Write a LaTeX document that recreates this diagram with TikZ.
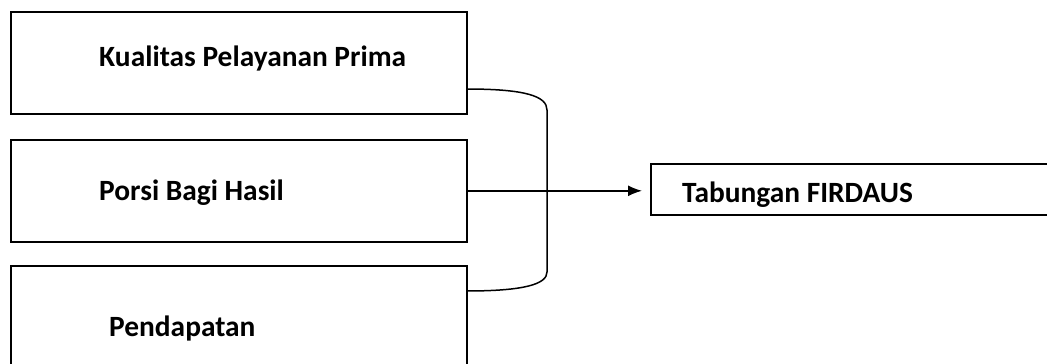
\documentclass[tikz,border=0pt]{standalone}
\usepackage{fontspec}
\setmainfont{Carlito}
\usetikzlibrary{arrows.meta}
\begin{document}
\begin{tikzpicture}[x=1pt,y=-1pt,
  box/.style={draw,line width=1.6pt,rectangle,inner sep=0pt,anchor=north west},
  lbl/.style={anchor=base west,inner sep=0pt,font=\bfseries\fontsize{29.4}{34}\selectfont},
  conn/.style={line width=1.5pt}]
\useasboundingbox (0,0) rectangle (1047,364);
\clip (0,0) rectangle (1047,364);
\node[box,minimum width=456pt,minimum height=102pt] (box1) at (10,11) {};
\node[box,minimum width=456pt,minimum height=102pt] (box2) at (10,139) {};
\node[box,minimum width=456pt,minimum height=130pt] (box3) at (10,265) {};
\node[box,minimum width=420pt,minimum height=51pt] (box4) at (650,163) {};
\node[lbl] (t1) at (99,66) {Kualitas Pelayanan Prima};
\node[lbl] (t2) at (99,200) {Porsi Bagi Hasil};
\node[lbl] (t3) at (109,336) {Pendapatan};
\node[lbl] (t4) at (682,202) {Tabungan FIRDAUS};
\coordinate (c1) at (466,89);
\coordinate (c3) at (466,291);
\coordinate (tip) at ([xshift=-8pt]box2.east -| box4.west);
\draw[conn] (c1) .. controls (525,89) and (547,96) .. (547,110) -- (547,272) .. controls (547,284) and (525,291) .. (c3);
\draw[conn,-{Latex[length=14pt,width=11pt]}] (box2.east) -- (tip);
\end{tikzpicture}
\end{document}
